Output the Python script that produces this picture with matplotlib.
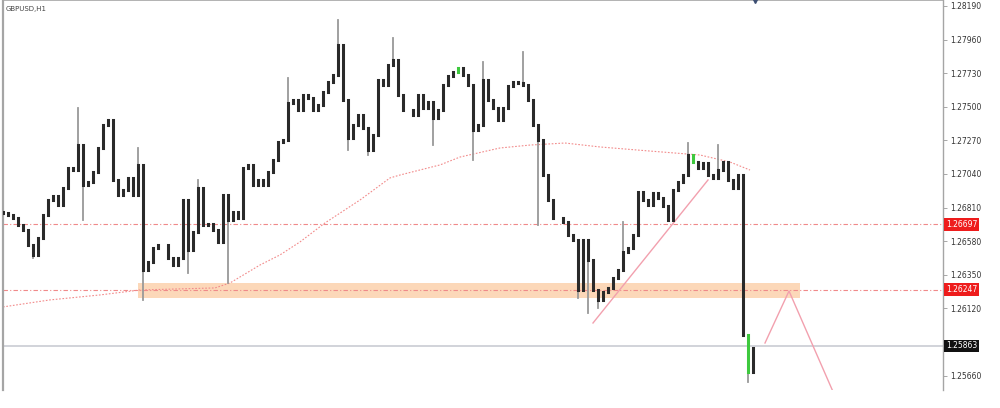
import numpy as np
import matplotlib
matplotlib.use("Agg")
import matplotlib.pyplot as plt

# GBPUSD H1 closes, one per candle
closes = [
    1.26773, 1.26759, 1.26739, 1.26691, 1.26657, 1.26554, 1.26486, 1.26602, 1.26759, 1.26862,
    1.26889, 1.26828, 1.26944, 1.27081, 1.27067, 1.27238, 1.26965, 1.26985, 1.27054, 1.27218,
    1.27375, 1.27410, 1.26999, 1.26896, 1.26930, 1.27013, 1.26896, 1.27102, 1.26383, 1.26438,
    1.26533, 1.26554, 1.26554, 1.26465, 1.26417, 1.26465, 1.26862, 1.26520, 1.26643, 1.26944,
    1.26691, 1.26698, 1.26657, 1.26575, 1.26896, 1.26725, 1.26780, 1.26739, 1.27081, 1.27102,
    1.26965, 1.26999, 1.26965, 1.27054, 1.27136, 1.27259, 1.27273, 1.27526, 1.27547, 1.27478,
    1.27581, 1.27560, 1.27478, 1.27512, 1.27601, 1.27670, 1.27718, 1.27923, 1.27547, 1.27286,
    1.27375, 1.27444, 1.27355, 1.27204, 1.27307, 1.27683, 1.27649, 1.27786, 1.27820, 1.27581,
    1.27478, 1.27478, 1.27444, 1.27581, 1.27492, 1.27533, 1.27423, 1.27478, 1.27649, 1.27711,
    1.27738, 1.27766, 1.27718, 1.27649, 1.27341, 1.27375, 1.27683, 1.27547, 1.27492, 1.27410,
    1.27492, 1.27642, 1.27670, 1.27663, 1.27649, 1.27547, 1.27375, 1.27273, 1.27033, 1.26862,
    1.26739, 1.26739, 1.26711, 1.26622, 1.26588, 1.26246, 1.26588, 1.26451, 1.26246, 1.26178,
    1.26232, 1.26260, 1.26328, 1.26383, 1.26506, 1.26533, 1.26622, 1.26917, 1.26862, 1.26828,
    1.26910, 1.26876, 1.26821, 1.26725, 1.26930, 1.26985, 1.27033, 1.27170, 1.27122, 1.27081,
    1.27115, 1.27033, 1.27013, 1.27067, 1.27122, 1.26999, 1.26944, 1.27033, 1.25938, 1.25685,
    1.25849,
]
first_open = 1.26780

# long wicks
hi_idx = [15, 27, 39, 57, 67, 78, 96, 104, 124, 137, 143]
hi_val = [1.27492, 1.27218, 1.26999, 1.27697, 1.28094, 1.27971, 1.27807, 1.27875, 1.26711, 1.27252, 1.27238]
lo_idx = [6, 16, 28, 37, 45, 69, 73, 86, 94, 107, 115, 117, 119, 149]
lo_val = [1.26465, 1.26725, 1.26178, 1.26362, 1.26294, 1.27204, 1.27170, 1.27238, 1.27136, 1.26691,
          1.26191, 1.26089, 1.26123, 1.25616]
green_idx = [91, 138, 149]

# moving average (dotted red)
ma_x = [0, 9.4, 19.4, 27.4, 42.4, 45.4, 51.4, 55.4, 59.4, 64.4, 71.4, 77.4, 79.4, 87.4,
        91.4, 99.4, 105.4, 112.4, 119.4, 129.4, 139.4, 145.4, 149.4]
ma_y = [1.26130, 1.26178, 1.26212, 1.26246, 1.26260, 1.26294, 1.26417, 1.26486, 1.26575, 1.26705,
        1.26862, 1.27013, 1.27033, 1.27102, 1.27156, 1.27218, 1.27238, 1.27252, 1.27225, 1.27197,
        1.27170, 1.27122, 1.27067]

levels = [1.26697, 1.26247]
last_price = 1.25863
zone = (27, 159.4, 1.26194, 1.26293)
trend_x = [118, 141]
trend_y = [1.26020, 1.26999]
zig_x = [152.4, 157.2, 166]
zig_y = [1.25883, 1.26239, 1.25550]

yticks = [1.28190, 1.27960, 1.27730, 1.27500, 1.27270, 1.27040, 1.26810,
          1.26580, 1.26350, 1.26120, 1.25890, 1.25660]

opens = [first_open] + closes[:-1]
body_lo = [min(o, c) for o, c in zip(opens, closes)]
body_hi = [max(o, c) for o, c in zip(opens, closes)]
highs = list(body_hi)
lows = list(body_lo)
for i, v in zip(hi_idx, hi_val):
    highs[i] = v
for i, v in zip(lo_idx, lo_val):
    lows[i] = v
x = np.arange(len(closes))

fig = plt.figure(figsize=(10, 4.08), dpi=100)
ax = fig.add_axes([0.003, 0.044, 0.940, 0.956])

ax.axhspan(zone[2], zone[3], xmin=zone[0] / 188, xmax=zone[1] / 188, color="#fcd2ad", alpha=0.85, lw=0, zorder=1)
for lv in levels:
    ax.axhline(lv, color="#f08a8a", lw=0.8, ls=(0, (4, 2, 1, 2)), zorder=2)
ax.axhline(last_price, color="#c9ccd3", lw=1.2, zorder=2)
ax.plot(ma_x, ma_y, color="#f28b8b", lw=0.8, ls=(0, (1.5, 1.5)), zorder=2)
ax.plot(trend_x, trend_y, color="#f2a0ae", lw=1.0, zorder=3)
ax.plot(zig_x, zig_y, color="#f2a0ae", lw=1.0, zorder=3)

wicks = ax.vlines(x, lows, highs, color="#999999", lw=1.3, zorder=4)
wicks.set_capstyle("projecting")
body_col = ["#3ec93e" if i in green_idx else "#2a2a2a" for i in x]
bodies = ax.vlines(x, body_lo, body_hi, color=body_col, lw=2.2, zorder=5)
bodies.set_capstyle("projecting")

ax.set_xlim(0, 188)
ax.set_ylim(1.25561, 1.28231)
ax.set_xticks([])
ax.yaxis.tick_right()
ax.set_yticks(yticks)
# the 1.25890 label sits under the last-price box
ax.set_yticklabels(["" if t == 1.25890 else "%.5f" % t for t in yticks])
ax.tick_params(axis="y", length=3, width=0.6, colors="#999999", labelcolor="#333333", labelsize=5.5, pad=2)
for s in ["left", "top", "right"]:
    ax.spines[s].set_color("#a5a5a5")
ax.spines["left"].set_linewidth(1.6)
ax.spines["top"].set_linewidth(1.2)
ax.spines["right"].set_linewidth(1.0)
ax.spines["bottom"].set_visible(False)

for lv in levels:
    ax.text(1.003, lv, "%.5f" % lv, transform=ax.get_yaxis_transform(), va="center", ha="left",
            fontsize=5.5, color="white", zorder=10,
            bbox=dict(boxstyle="square,pad=0.25", fc="#ee1c1c", ec="none"))
ax.text(1.003, last_price, "%.5f" % last_price, transform=ax.get_yaxis_transform(), va="center", ha="left",
        fontsize=5.5, color="white", zorder=10,
        bbox=dict(boxstyle="square,pad=0.25", fc="#111111", ec="none"))

ax.text(0.003, 0.985, "GBPUSD,H1", transform=ax.transAxes, fontsize=5, color="#444444", va="top", ha="left")
ax.plot([150.4], [1.28231], marker="v", ms=5, color="#3d4f73", clip_on=False, zorder=10)

fig.savefig("out.png", dpi=100, facecolor="white")
